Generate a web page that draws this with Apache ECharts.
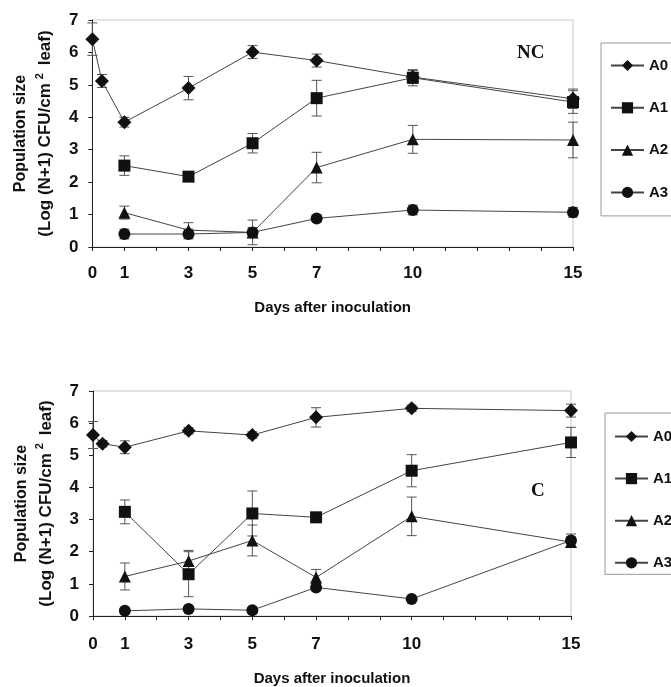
<!DOCTYPE html>
<html>
<head>
<meta charset="utf-8">
<script src="https://cdn.jsdelivr.net/npm/echarts@6/dist/echarts.min.js"></script>
<style>
  html, body { margin: 0; padding: 0; background: #fff; }
  #chart { width: 671px; height: 687px; }
</style>
</head>
<body>
<div id="chart"></div>
<script>
// sampling days (0.3 = a few hours after inoculation)
const days = [0, 0.3, 1, 3, 5, 7, 10, 15]
const xLabels = [0, 1, 3, 5, 7, 10, 15]
const names = ['A0', 'A1', 'A2', 'A3']

// NC panel
const ncA0 = [6.41, 5.12, 3.85, 4.90, 6.01, 5.75, 5.24, 4.57]
const ncA1 = [null, null, 2.51, 2.17, 3.20, 4.59, 5.22, 4.47]
const ncA2 = [null, null, 1.06, 0.52, 0.45, 2.45, 3.32, 3.30]
const ncA3 = [null, null, 0.40, 0.40, 0.45, 0.88, 1.14, 1.07]
const ncA0Err = [0.50, 0.20, 0.15, 0.36, 0.20, 0.20, 0.20, 0.30]
const ncA1Err = [null, null, 0.30, 0.15, 0.30, 0.55, 0.25, 0.35]
const ncA2Err = [null, null, 0.20, 0.23, 0.38, 0.47, 0.43, 0.55]
const ncA3Err = [null, null, 0.15, 0.15, 0.15, 0.10, 0.15, 0.15]

// C panel
const cA0 = [5.63, 5.36, 5.25, 5.76, 5.63, 6.18, 6.46, 6.39]
const cA1 = [null, null, 3.24, 1.30, 3.19, 3.07, 4.52, 5.40]
const cA2 = [null, null, 1.23, 1.71, 2.35, 1.20, 3.10, 2.30]
const cA3 = [null, null, 0.16, 0.22, 0.18, 0.89, 0.53, 2.35]
const cA0Err = [0.42, 0.10, 0.20, 0.10, 0.10, 0.30, 0.10, 0.20]
const cA1Err = [null, null, 0.37, 0.70, 0.70, 0.10, 0.50, 0.47]
const cA2Err = [null, null, 0.42, 0.33, 0.48, 0.25, 0.60, 0.15]
const cA3Err = [null, null, 0.08, 0.08, 0.08, 0.10, 0.05, 0.20]

const symbols = ['diamond', 'rect', 'triangle', 'circle']
const symSizes = [14, 12, 12, 12]
const FONT = '"Liberation Sans", Arial, sans-serif'

function pairs(vals) {
  return days.map((d, i) => [d, vals[i]]).filter(p => p[1] != null)
}
function errTriples(vals, errs) {
  return days.map((d, i) => [d, vals[i], errs[i]]).filter(p => p[1] != null)
}

function errRender(params, api) {
  const x = api.value(0), y = api.value(1), e = api.value(2)
  const hi = api.coord([x, y + e]), lo = api.coord([x, y - e])
  const w = 5
  const st = { stroke: '#555', lineWidth: 1 }
  return { type: 'group', children: [
    { type: 'line', shape: { x1: hi[0], y1: hi[1], x2: lo[0], y2: lo[1] }, style: st },
    { type: 'line', shape: { x1: hi[0] - w, y1: hi[1], x2: hi[0] + w, y2: hi[1] }, style: st },
    { type: 'line', shape: { x1: lo[0] - w, y1: lo[1], x2: lo[0] + w, y2: lo[1] }, style: st },
  ] }
}

function xAx(gi, labelMargin, nameGap) {
  return {
    gridIndex: gi, type: 'value', min: 0, max: 15, interval: 1,
    name: 'Days after inoculation', nameLocation: 'middle', nameGap,
    nameTextStyle: { color: '#111', fontSize: 15, fontWeight: 'bold', fontFamily: FONT },
    axisLine: { lineStyle: { color: '#222', width: 1 } },
    axisTick: { length: 4, lineStyle: { color: '#222' } },
    axisLabel: { margin: labelMargin, color: '#111', fontSize: 17, fontWeight: 'bold', fontFamily: FONT,
      formatter: v => xLabels.includes(v) ? String(v) : '' },
    splitLine: { show: false },
  }
}
function yAx(gi, nameGap) {
  const base = { color: '#111', fontWeight: 'bold', fontFamily: FONT, lineHeight: 25 }
  return {
    gridIndex: gi, type: 'value', min: 0, max: 7, interval: 1,
    name: '{a|Population size}\n{b|(Log (N+1) CFU/cm}{s|2}{b| leaf)}',
    nameLocation: 'middle', nameRotate: 90, nameGap,
    nameTextStyle: { ...base, fontSize: 16,
      rich: {
        a: { ...base, fontSize: 16 },
        b: { ...base, fontSize: 17 },
        s: { ...base, fontSize: 11, verticalAlign: 'top', padding: [1, 3, 0, 4] },
      } },
    axisLine: { show: true, lineStyle: { color: '#222', width: 1 } },
    axisTick: { show: true, length: 4, lineStyle: { color: '#222' } },
    axisLabel: { margin: 14, color: '#111', fontSize: 17, fontWeight: 'bold', fontFamily: FONT },
    splitLine: { show: false },
  }
}

function panelSeries(gi, vals, errs) {
  const out = []
  vals.forEach((v, k) => {
    out.push({
      name: names[k], type: 'line', xAxisIndex: gi, yAxisIndex: gi,
      data: pairs(v), symbol: symbols[k], symbolSize: symSizes[k], clip: false,
      lineStyle: { color: '#444', width: 1 },
      itemStyle: { color: '#111' }, z: 3,
    })
    out.push({
      type: 'custom', xAxisIndex: gi, yAxisIndex: gi, data: errTriples(v, errs[k]),
      renderItem: errRender, clip: false, z: 2, silent: true,
    })
  })
  return out
}

function legendAt(left, top, gap, pad) {
  return {
    data: names, orient: 'vertical', left, top,
    itemWidth: 33, itemHeight: 14, itemGap: gap, padding: pad,
    borderColor: '#999', borderWidth: 1,
    textStyle: { color: '#111', fontSize: 15, fontWeight: 'bold', fontFamily: FONT },
  }
}

const chart = echarts.init(document.getElementById('chart'), null, { renderer: 'canvas' })
chart.setOption({
  backgroundColor: '#fff',
  animation: false,
  grid: [
    { left: 89, top: 20, width: 484, height: 227, show: true, borderColor: '#c8c8c8', borderWidth: 1 },
    { left: 93, top: 391, width: 478, height: 226, show: true, borderColor: '#c8c8c8', borderWidth: 1 },
  ],
  xAxis: [xAx(0, 18, 53), xAx(1, 20, 55)],
  yAxis: [yAx(0, 26.5), yAx(1, 29.5)],
  legend: [
    legendAt(601, 43, 27.3, [15, 40, 16, 9]),
    legendAt(605, 413, 27.1, [16, 40, 4, 9]),
  ],
  graphic: [
    { type: 'text', left: 517, top: 44, style: { text: 'NC', fontSize: 19, fontWeight: 'bold', fontFamily: '"Liberation Serif", serif', fill: '#111' } },
    { type: 'text', left: 531, top: 482, style: { text: 'C', fontSize: 19, fontWeight: 'bold', fontFamily: '"Liberation Serif", serif', fill: '#111' } },
  ],
  series: [
    ...panelSeries(0, [ncA0, ncA1, ncA2, ncA3], [ncA0Err, ncA1Err, ncA2Err, ncA3Err]),
    ...panelSeries(1, [cA0, cA1, cA2, cA3], [cA0Err, cA1Err, cA2Err, cA3Err]),
  ],
})
</script>
</body>
</html>
